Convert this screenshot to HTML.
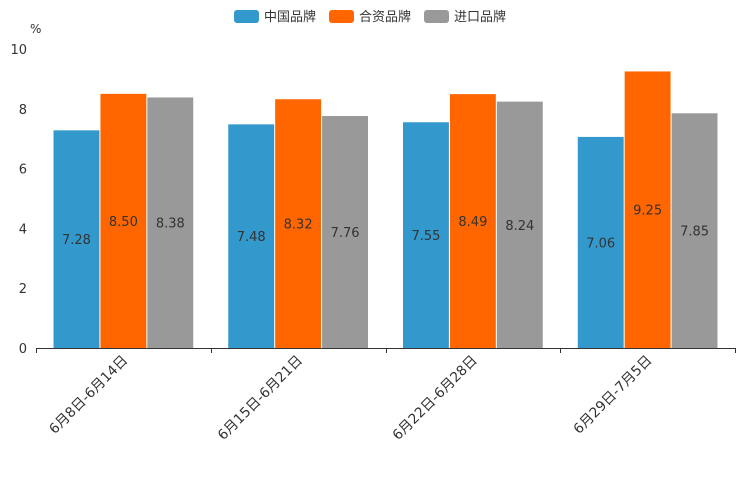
<!DOCTYPE html>
<html><head><meta charset="utf-8"><style>
html,body{margin:0;padding:0;background:#fff;}
svg{display:block;font-family:"DejaVu Sans","Noto Sans CJK SC",sans-serif;}
</style></head><body>
<svg id="chart" width="744" height="496">
<g id="legend"></g>
<text x="30" y="33" font-size="12" fill="#333">%</text>
<g id="yaxis"></g>
<g id="bars"></g>
<g id="xaxis"></g>
</svg>
<script>
const categories = ["6月8日-6月14日","6月15日-6月21日","6月22日-6月28日","6月29日-7月5日"];
const seriesNames = ["中国品牌","合资品牌","进口品牌"];
const domestic = [7.28,7.48,7.55,7.06];
const joint = [8.50,8.32,8.49,9.25];
const imported = [8.38,7.76,8.24,7.85];
const yTicks = [0,2,4,6,8,10];
const colors = ["#3399cc","#ff6600","#999999"];
const series = [domestic, joint, imported];

const NS = "http://www.w3.org/2000/svg";
const x0 = 36, x1 = 735, y0 = 348, yTop = 49, yMax = 10;
const band = (x1 - x0) / categories.length;
const pad = 17;
const barW = (band - 2 * pad) / series.length;
function yScale(v){ return y0 - (v / yMax) * (y0 - yTop); }
function xBand(i){ return x0 + i * band; }
function mk(tag, attrs, parent){ const e = document.createElementNS(NS, tag); for (const k in attrs) e.setAttribute(k, attrs[k]); parent.appendChild(e); return e; }

const yaxis = document.getElementById('yaxis');
yTicks.forEach(t => {
  const tx = mk('text', {x: 27, y: yScale(t) + 5, 'font-size': 13, fill: '#333', 'text-anchor': 'end'}, yaxis);
  tx.textContent = t;
  
  
});

const bars = document.getElementById('bars');
categories.forEach((c, i) => {
  series.forEach((s, j) => {
    const v = s[i];
    const x = xBand(i) + pad + j * barW;
    const r = mk('rect', {x: x + 0.5, y: yScale(v), width: barW - 1, height: y0 - yScale(v), fill: colors[j]}, bars);
    
    
    const t = mk('text', {x: x + barW / 2, y: (yScale(v) + y0) / 2 + 5, 'font-size': 13, fill: '#333', 'text-anchor': 'middle'}, bars);
    t.textContent = v.toFixed(2);
    
    
  });
});

const xaxis = document.getElementById('xaxis');
mk('line', {x1: x0, x2: x1, y1: y0 + 0.5, y2: y0 + 0.5, stroke: '#333', 'stroke-width': 1}, xaxis);
for (let i = 0; i <= categories.length; i++) {
  const x = Math.round(xBand(i)) + 0.5;
  mk('line', {x1: x, x2: x, y1: y0, y2: y0 + 5, stroke: '#333'}, xaxis);
}
categories.forEach((c, i) => {
  const cx = xBand(i) + band / 2 + 5;
  const cy = y0 + 13;
  const t = mk('text', {x: cx, y: cy, 'font-size': 13.8, fill: '#333', 'text-anchor': 'end', transform: 'rotate(-45 ' + cx + ' ' + cy + ')'}, xaxis);
  t.textContent = c;
  
  
});

const legend = document.getElementById('legend');
const legendX = [234, 329, 424];
seriesNames.forEach((n, j) => {
  const g = mk('g', {}, legend);
  
  
  mk('rect', {x: legendX[j], y: 10, width: 25, height: 13, rx: 3, fill: colors[j]}, g);
  const t = mk('text', {x: legendX[j] + 30, y: 21, 'font-size': 13, fill: '#333'}, g);
  t.textContent = n;
});
</script>
</body></html>
